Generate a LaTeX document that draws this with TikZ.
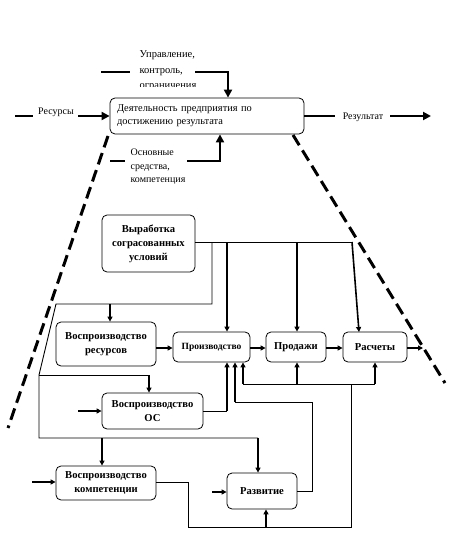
\documentclass[tikz,border=0pt]{standalone}
\usepackage{fontspec}
\setmainfont{Liberation Serif}
\usetikzlibrary{arrows.meta}
\begin{document}
\begin{tikzpicture}[x=1pt,y=-1pt,
  box/.style={draw,line width=0.8pt,rounded corners=5pt,inner sep=0pt,align=center,font=\bfseries\fontsize{10.6}{14}\selectfont},
  lbl/.style={inner sep=0pt,align=left,font=\fontsize{10}{15}\selectfont},
  big/.style={line width=2.6pt,-{Triangle[length=8pt,width=8pt]}},
  bigline/.style={line width=2.6pt},
  conn/.style={line width=0.9pt},
  arr/.style={line width=1.6pt,-{Triangle[length=5pt,width=5pt]}},
  bound/.style={line width=3pt,dash pattern=on 12pt off 6pt}]
\useasboundingbox (0,0) rectangle (461,537);
% top activity
\node[box,font=\fontsize{10.4}{13}\selectfont,minimum width=194pt,minimum height=36pt,text width=180pt,align=left] (act) at (207,116) {Деятельность предприятия по\\достижению результата};
% resources
\coordinate (r0) at (15,116);
\coordinate (r1) at (33,116);
\coordinate (r2) at (78,116);
\draw[bigline] (r0) -- (r1);
\node[lbl] (res) at (56,112) {Ресурсы};
\draw[big] (r2) -- (r2 -| act.west);
% result
\coordinate (o1) at (335,116);
\coordinate (o2) at (390,116);
\coordinate (o3) at (431,116);
\draw[line width=2pt] (act.east |- o1) -- (o1);
\node[lbl] (out) at (363,117) {Результат};
\draw[big] (o2) -- (o3);
% control
\coordinate (c0) at (101,72);
\coordinate (c1) at (130,72);
\coordinate (c2) at (195,72);
\coordinate (c3) at (228,72);
\draw[bigline] (c0) -- (c1);
\begin{scope}
\clip (100,40) rectangle (240,87);
\node[lbl,font=\fontsize{10.5}{15.5}\selectfont] (ctl) at (168,71) {Управление,\\контроль,\\ограничения};
\end{scope}
\draw[line width=2.6pt,-{Triangle[length=8pt,width=8pt]}] (c2) -- (c3) -- (c3 |- act.north);
% mechanism
\coordinate (m0) at (110,161);
\coordinate (m1) at (125,161);
\coordinate (m2) at (187,161);
\coordinate (m3) at (220,161);
\draw[bigline] (m0) -- (m1);
\node[lbl,font=\fontsize{10}{13.5}\selectfont] (mech) at (158,167) {Основные\\средства,\\компетенция};
\draw[line width=2.6pt,-{Triangle[length=8pt,width=8pt]}] (m2) -- (m3) -- (m3 |- act.south);
% boundary dashed lines
\coordinate (bl0) at (108,136);
\coordinate (bl1) at (8,428);
\coordinate (br0) at (293,135);
\coordinate (br1) at (445,383);
\draw[bound] (bl0) -- (bl1);
\draw[bound] (br0) -- (br1);
% lower boxes
\node[box,minimum width=93pt,minimum height=57pt] (vyr) at (148.5,243.5) {Выработка\\сограсованных\\условий};
\node[box,minimum width=100pt,minimum height=44pt] (vr) at (106,344) {Воспроизводство\\ресурсов};
\node[box,font=\bfseries\fontsize{9.5}{10}\selectfont,minimum width=77pt,minimum height=30pt] (prod) at (211.5,347) {Производство};
\node[box,minimum width=60pt,minimum height=30pt] (sale) at (296,347) {Продажи};
\node[box,minimum width=64pt,minimum height=30pt] (calc) at (375,347) {Расчеты};
\node[box,minimum width=101pt,minimum height=36pt] (vos) at (152.5,411) {Воспроизводство\\ОС};
\node[box,minimum width=100pt,minimum height=34pt] (vk) at (106,483) {Воспроизводство\\компетенции};
\node[box,minimum width=70pt,minimum height=36pt] (dev) at (262,491) {Развитие};
% connectors from Выработка
\coordinate (h1) at (352,242);
\coordinate (h2) at (212,242);
\coordinate (h3) at (212,304);
\coordinate (h4) at (56,304);
\coordinate (h5) at (39,375);
\coordinate (h6) at (39,438);
\coordinate (h7) at (258,438);
\draw[conn] (vyr.east |- h1) -- (h1);
\draw[arr] (227,242) -- (227,242 |- prod.north);
\draw[arr] (297,242) -- (297,242 |- sale.north);
\draw[arr] (h1) -- (359,332);
\draw[conn] (h2) -- (h3) -- (h4) -- (h5) -- (h6) -- (h7);
\draw[arr] (110,304) -- (110,304 |- vr.north);
\draw[conn] (h5) -- (149,375);
\draw[arr] (149,375) -- (149,375 |- vos.north);
\draw[arr] (102,438) -- (102,438 |- vk.north);
\draw[arr] (h7) -- (h7 |- dev.north);
% chain
\draw[arr] (vr.east |- 0,348) -- (prod.west |- 0,348);
\draw[arr] (prod.east |- 0,348) -- (sale.west |- 0,348);
\draw[arr] (sale.east |- 0,348) -- (calc.west |- 0,348);
\coordinate (cout) at (423,348);
\draw[arr] (calc.east |- cout) -- (cout);
% feedback into Производство
\coordinate (v1) at (227,411);
\draw[conn] (vos.east |- v1) -- (v1);
\draw[arr] (v1) -- (v1 |- prod.south);
\coordinate (d1) at (312,491);
\coordinate (d2) at (312,402);
\coordinate (d3) at (235,402);
\draw[conn] (dev.east |- d1) -- (d1) -- (d2) -- (d3);
\draw[arr] (d3) -- (d3 |- prod.south);
\coordinate (f1) at (243,384);
\coordinate (f2) at (375,384);
\draw[conn] (f1) -- (f2);
\draw[arr] (f1) -- (f1 |- prod.south);
\draw[arr] (297,384) -- (297,384 |- sale.south);
\draw[arr] (f2) -- (f2 |- calc.south);
\coordinate (k1) at (188,482);
\coordinate (k2) at (188,527);
\coordinate (k3) at (351,527);
\coordinate (k4) at (351,384);
\draw[conn] (vk.east |- k1) -- (k1) -- (k2) -- (k3) -- (k4);
\draw[arr] (266,527) -- (266,527 |- dev.south);
% free inputs
\coordinate (i1) at (78,411);
\coordinate (i2) at (32,482);
\coordinate (i3) at (212,492);
\draw[arr] (i1) -- (i1 -| vos.west);
\draw[arr] (i2) -- (i2 -| vk.west);
\draw[arr] (i3) -- (i3 -| dev.west);
\end{tikzpicture}
\end{document}
